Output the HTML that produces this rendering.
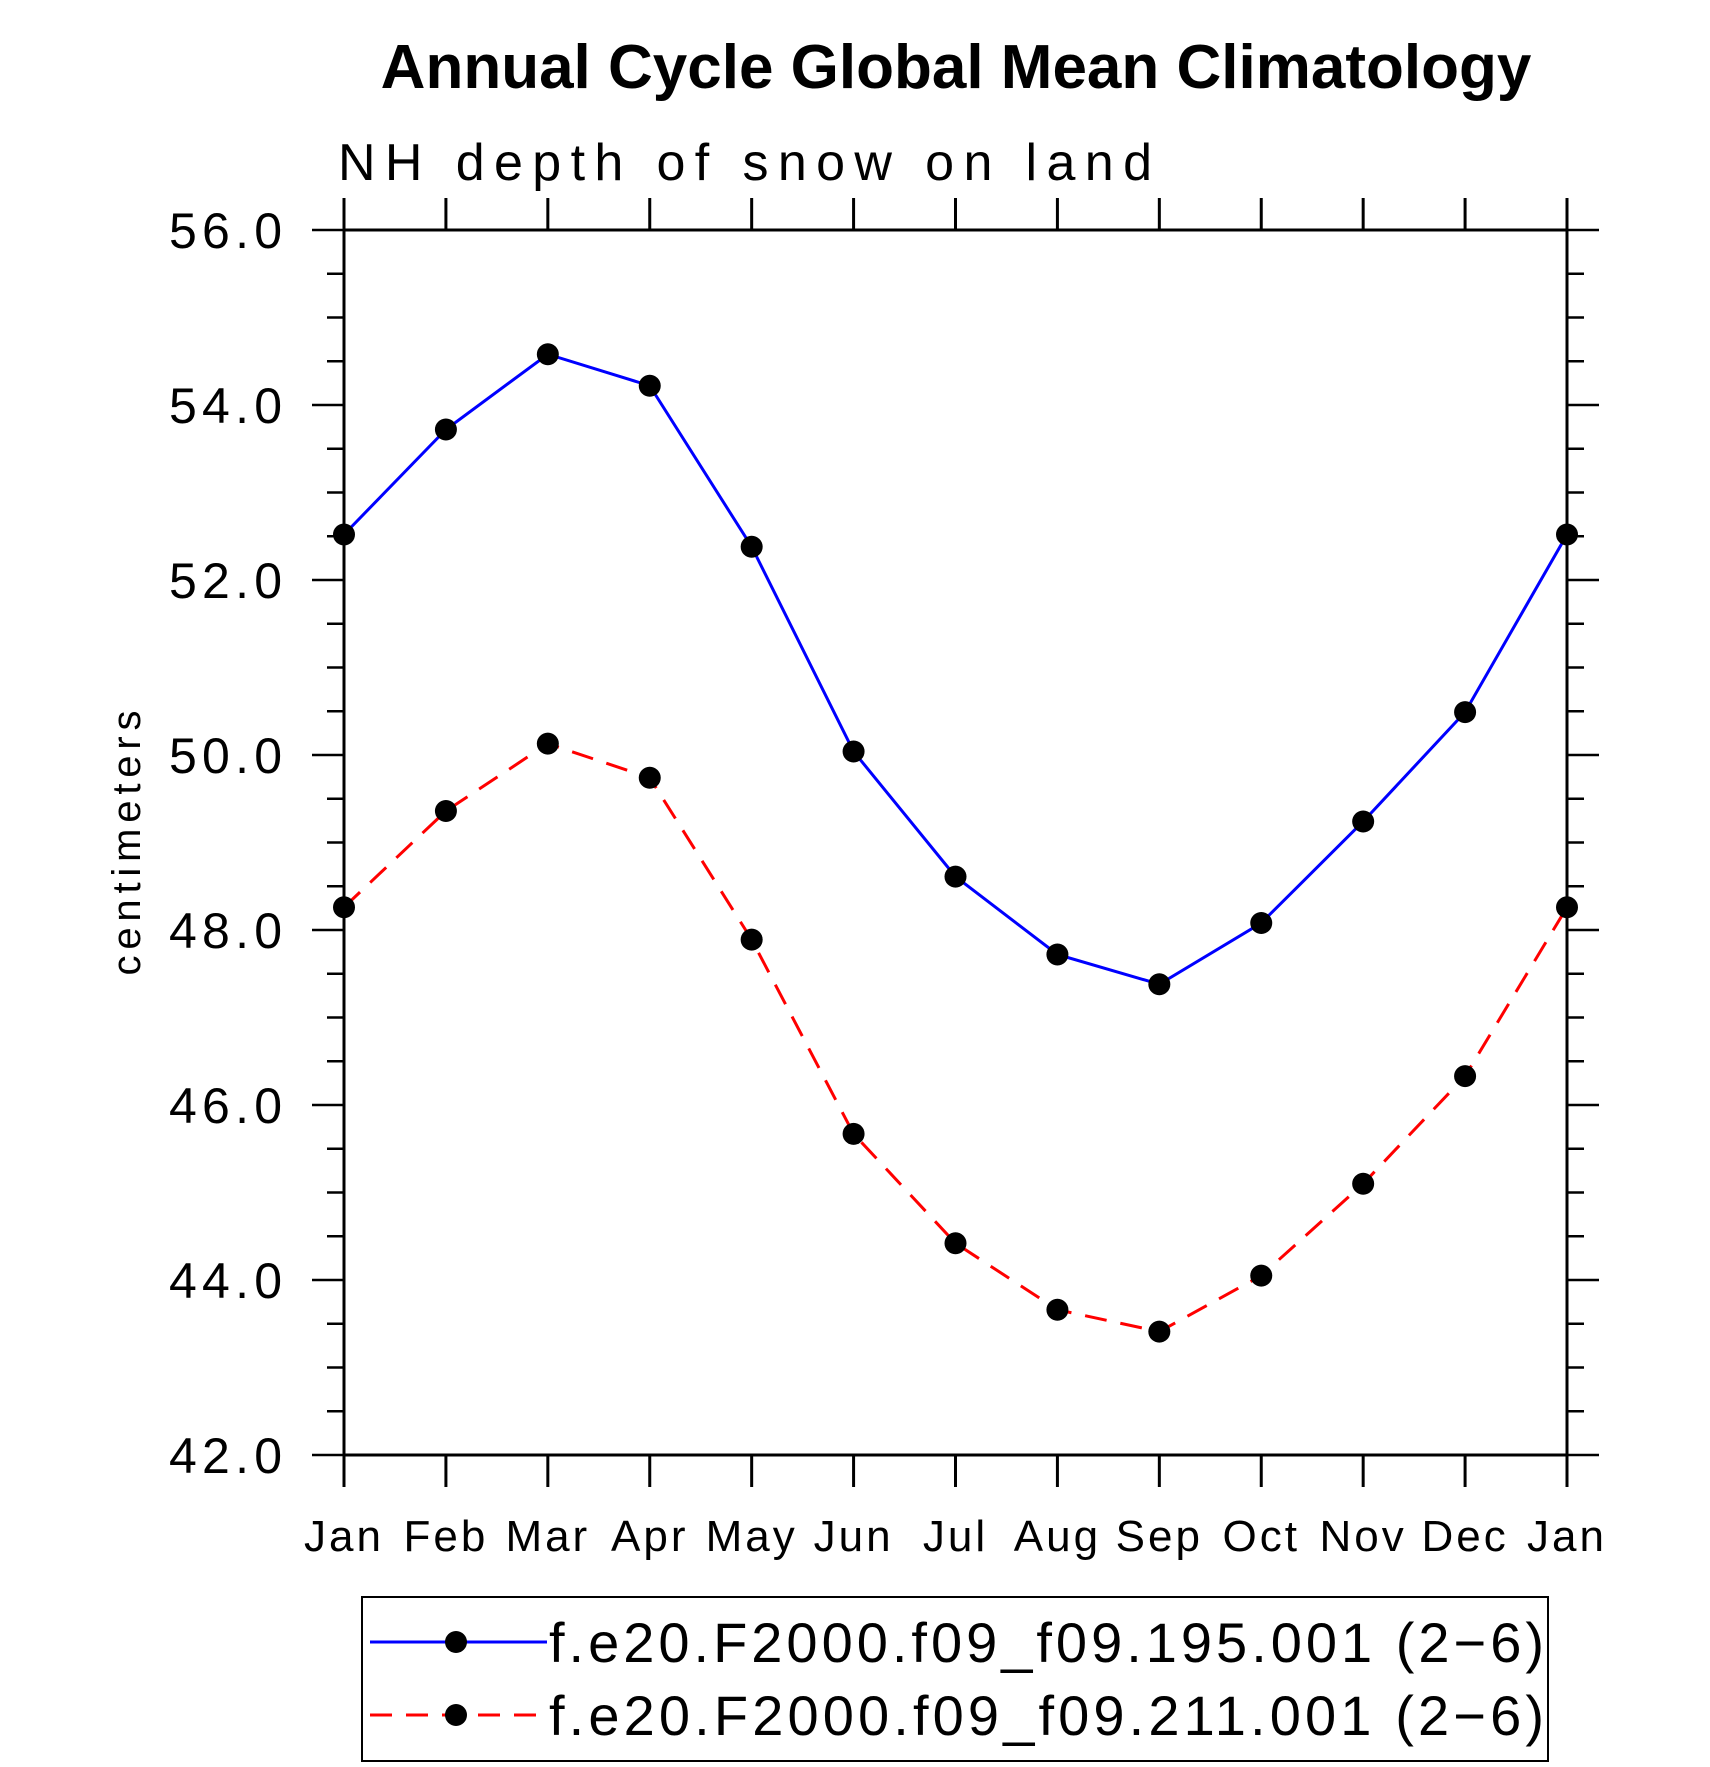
<!DOCTYPE html>
<html><head><meta charset="utf-8"><style>html,body{margin:0;padding:0;background:#fff}svg{display:block}text{font-family:"Liberation Sans",sans-serif}</style></head>
<body>
<svg id="chart" width="1710" height="1767" viewBox="0 0 1710 1767" xmlns="http://www.w3.org/2000/svg">
<text x="956" y="88" text-anchor="middle" font-size="62" font-weight="bold">Annual Cycle Global Mean Climatology</text>
<text x="338" y="180" font-size="52" textLength="814" lengthAdjust="spacing">NH depth of snow on land</text>
<text transform="translate(140,843) rotate(-90)" text-anchor="middle" font-size="40" textLength="265" lengthAdjust="spacing">centimeters</text>
<g id="axes"></g>
<g id="series"></g>
<rect x="362" y="1597" width="1186" height="164" fill="none" stroke="#000" stroke-width="2"/>
<g>
<line x1="370" y1="1642" x2="547" y2="1642" stroke="#0000ff" stroke-width="3"/>
<circle cx="456" cy="1642" r="11" fill="#000"/>
<text x="549" y="1662" font-size="56" textLength="995" lengthAdjust="spacing">f.e20.F2000.f09_f09.195.001 (2−6)</text>
</g>
<g>
<line x1="370" y1="1715" x2="547" y2="1715" stroke="#ff0000" stroke-width="3" stroke-dasharray="22,14"/>
<circle cx="456" cy="1715" r="11" fill="#000"/>
<text x="549" y="1735" font-size="56" textLength="995" lengthAdjust="spacing">f.e20.F2000.f09_f09.211.001 (2−6)</text>
</g>
</svg>
<script>
const months = ["Jan","Feb","Mar","Apr","May","Jun","Jul","Aug","Sep","Oct","Nov","Dec","Jan"];
const blueValues = [52.52,53.72,54.58,54.22,52.38,50.04,48.61,47.72,47.38,48.08,49.24,50.49,52.52];
const redValues = [48.26,49.36,50.13,49.74,47.89,45.67,44.42,43.66,43.41,44.05,45.10,46.33,48.26];
const yTickLabels = ["42.0","44.0","46.0","48.0","50.0","52.0","54.0","56.0"];
const yMin = 42, yMax = 56;
const L=344,R=1567,T=230,B=1455;
const NS="http://www.w3.org/2000/svg";
function xs(i){return L+(R-L)*i/(months.length-1);}
function ys(v){return B-(B-T)*(v-yMin)/(yMax-yMin);}
function mk(tag,attrs,parent){const e=document.createElementNS(NS,tag);for(const k in attrs)e.setAttribute(k,attrs[k]);parent.appendChild(e);return e;}
const ax=document.getElementById('axes');
const frame=mk('rect',{x:L,y:T,width:R-L,height:B-T,fill:'none',stroke:'#000','stroke-width':3},ax);


months.forEach((m,i)=>{
  const x=xs(i);
  mk('line',{x1:x,y1:B,x2:x,y2:B+32,stroke:'#000','stroke-width':3},ax);
  mk('line',{x1:x,y1:T,x2:x,y2:T-32,stroke:'#000','stroke-width':3},ax);
  const t=mk('text',{x:x,y:1551,'text-anchor':'middle','font-size':44,'letter-spacing':3},ax);
  t.textContent=m;
  
  
});
for(let v=yMin;v<=yMax+1e-9;v+=0.5){
  const y=ys(v);const major=Math.abs(v%2)<1e-9;const len=major?32:17;
  mk('line',{x1:L,y1:y,x2:L-len,y2:y,stroke:'#000','stroke-width':2.5},ax);
  mk('line',{x1:R,y1:y,x2:R+len,y2:y,stroke:'#000','stroke-width':2.5},ax);
}
yTickLabels.forEach(lbl=>{
  const v=parseFloat(lbl);
  const t=mk('text',{x:169,y:ys(v)+18,'font-size':50,textLength:113,lengthAdjust:'spacing'},ax);
  t.textContent=lbl;
  
  
});
const sg=document.getElementById('series');
function drawSeries(vals,color,dash,name){
  const pts=vals.map((v,i)=>xs(i)+','+ys(v)).join(' ');
  const pl=mk('polyline',{points:pts,fill:'none',stroke:color,'stroke-width':3},sg);
  if(dash)pl.setAttribute('stroke-dasharray',dash);
  
  
  vals.forEach((v,i)=>{
    const c=mk('circle',{cx:xs(i),cy:ys(v),r:11,fill:'#000'},sg);
    
    
  });
}
drawSeries(blueValues,'#0000ff',null,'blue-series');
drawSeries(redValues,'#ff0000','22,14','red-series');
</script>
</body></html>
